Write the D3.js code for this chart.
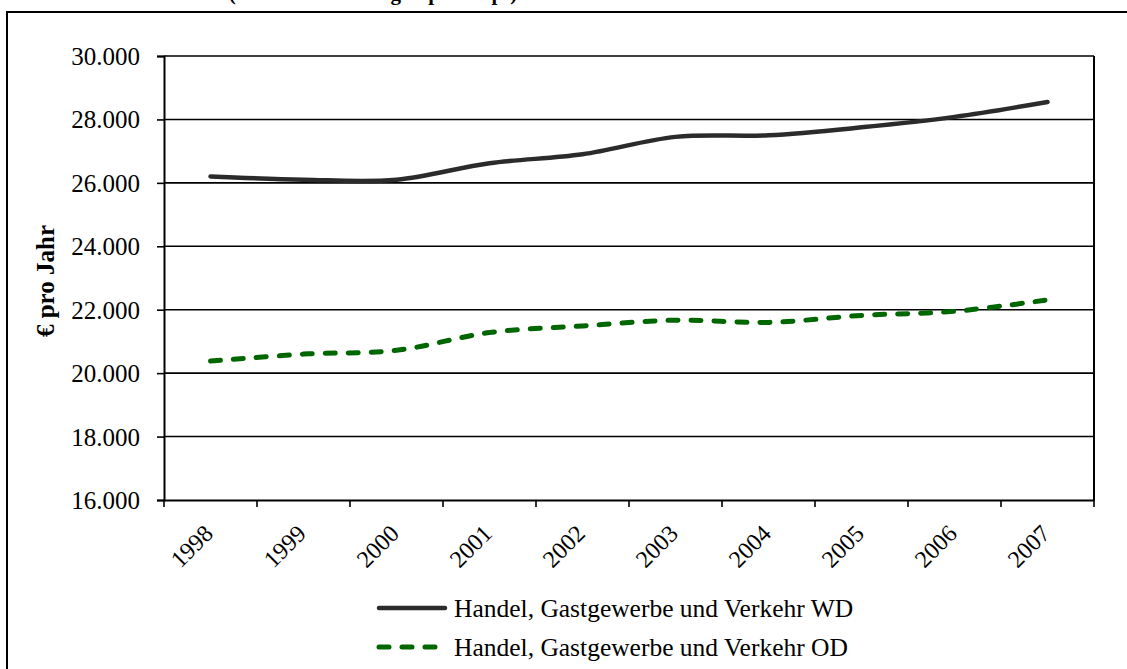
<!DOCTYPE html>
<html><head><meta charset="utf-8">
<script src="https://cdn.jsdelivr.net/npm/d3@7"></script>
<style>body{margin:0;background:#fff;}svg{display:block;}</style>
</head><body>
<script>
const years = ["1998","1999","2000","2001","2002","2003","2004","2005","2006","2007"];
const seriesWD = [26200, 26100, 26100, 26620, 26900, 27450, 27500, 27750, 28080, 28550];
const seriesOD = [20380, 20600, 20720, 21280, 21490, 21670, 21600, 21820, 21950, 22310];
const yTicks = [16000, 18000, 20000, 22000, 24000, 26000, 28000, 30000];
const seriesNames = ["Handel, Gastgewerbe und Verkehr WD", "Handel, Gastgewerbe und Verkehr OD"];
const yTitle = "€ pro Jahr";
const topTitle = "(Arbeitnehmerentgelt pro Kopf)";

const W = 1127, H = 669;
const svg = d3.select("body").append("svg").attr("width", W).attr("height", H);
const font = "'Liberation Serif','Times New Roman',serif";

// title remnant (cut by the top edge, as in the reference)
svg.append("text").attr("x", 373).attr("y", 0).attr("text-anchor", "middle")
  .attr("font-family", font).attr("font-weight", "bold").attr("font-size", 21).text(topTitle);

// outer frame
svg.append("rect").attr("x", 7).attr("y", 12).attr("width", 1140).attr("height", 680)
  .attr("fill", "none").attr("stroke", "#000").attr("stroke-width", 2);

const L = 164, R = 1094, T = 56, B = 500;
const x = d3.scaleBand().domain(years).range([L, R]);
const y = d3.scaleLinear().domain([16000, 30000]).range([B, T]);

// gridlines
svg.append("g").selectAll("line").data(yTicks.filter(d => d > 16000)).join("line")
  .attr("x1", L).attr("x2", R).attr("y1", d => y(d)).attr("y2", d => y(d))
  .attr("stroke", "#000").attr("stroke-width", 1.6);
// right border of plot
svg.append("line").attr("x1", R).attr("x2", R).attr("y1", T).attr("y2", B)
  .attr("stroke", "#000").attr("stroke-width", 2);

// y axis
const yAxis = svg.append("g").attr("transform", `translate(${L},0)`)
  .call(d3.axisLeft(y).tickValues(yTicks).tickSize(7).tickPadding(17)
    .tickFormat(d => d3.format(",")(d).replace(/,/g, ".")));
yAxis.select(".domain").attr("stroke-width", 2).attr("stroke", "#000");
yAxis.selectAll(".tick line").attr("stroke-width", 1.6).attr("stroke", "#000");
yAxis.selectAll("text").attr("font-family", font).attr("font-size", 25).attr("fill", "#000").attr("dy", "0.34em");

// x axis
const xAxis = svg.append("g").attr("transform", `translate(0,${B})`)
  .call(d3.axisBottom(x).tickSize(0).tickFormat(""));
xAxis.select(".domain").attr("stroke-width", 2).attr("stroke", "#000");
svg.append("g").selectAll("line").data(years.concat(["end"])).join("line")
  .attr("x1", (d, i) => i < years.length ? x(d) : R)
  .attr("x2", (d, i) => i < years.length ? x(d) : R)
  .attr("y1", B).attr("y2", B + 7).attr("stroke", "#000").attr("stroke-width", 1.6);
svg.append("g").selectAll("text").data(years).join("text")
  .attr("transform", d => `translate(${x(d) + x.bandwidth() / 2 + 4},${B + 35}) rotate(-45)`)
  .attr("text-anchor", "end")
  .attr("font-family", font).attr("font-size", 24).attr("fill", "#000").text(d => d);

// y title
svg.append("text").attr("transform", `translate(54,${(T + B) / 2 + 3}) rotate(-90)`)
  .attr("text-anchor", "middle").attr("font-family", font).attr("font-weight", "bold")
  .attr("font-size", 25).text(yTitle);

// lines
const line = d3.line().x((d, i) => x(years[i]) + x.bandwidth() / 2).y(d => y(d))
  .curve(d3.curveCatmullRom.alpha(0.5));
svg.append("path").datum(seriesWD).attr("d", line).attr("fill", "none")
  .attr("stroke", "#2b2b2b").attr("stroke-width", 4.5).attr("stroke-linecap", "round");
svg.append("path").datum(seriesOD).attr("d", line).attr("fill", "none")
  .attr("stroke", "#006600").attr("stroke-width", 5).attr("stroke-linecap", "round")
  .attr("stroke-dasharray", "10,13");

// legend
const leg = svg.append("g");
leg.append("line").attr("x1", 379).attr("x2", 445).attr("y1", 608).attr("y2", 608)
  .attr("stroke", "#2b2b2b").attr("stroke-width", 4.5).attr("stroke-linecap", "round");
leg.append("line").attr("x1", 379).attr("x2", 445).attr("y1", 647).attr("y2", 647)
  .attr("stroke", "#006600").attr("stroke-width", 5).attr("stroke-linecap", "round")
  .attr("stroke-dasharray", "10,13");
leg.selectAll("text").data(seriesNames).join("text")
  .attr("x", 454).attr("y", (d, i) => 608 + i * 39).attr("dy", "0.34em")
  .attr("font-family", font).attr("font-size", 25.5).attr("fill", "#000").text(d => d);
</script>
</body></html>
